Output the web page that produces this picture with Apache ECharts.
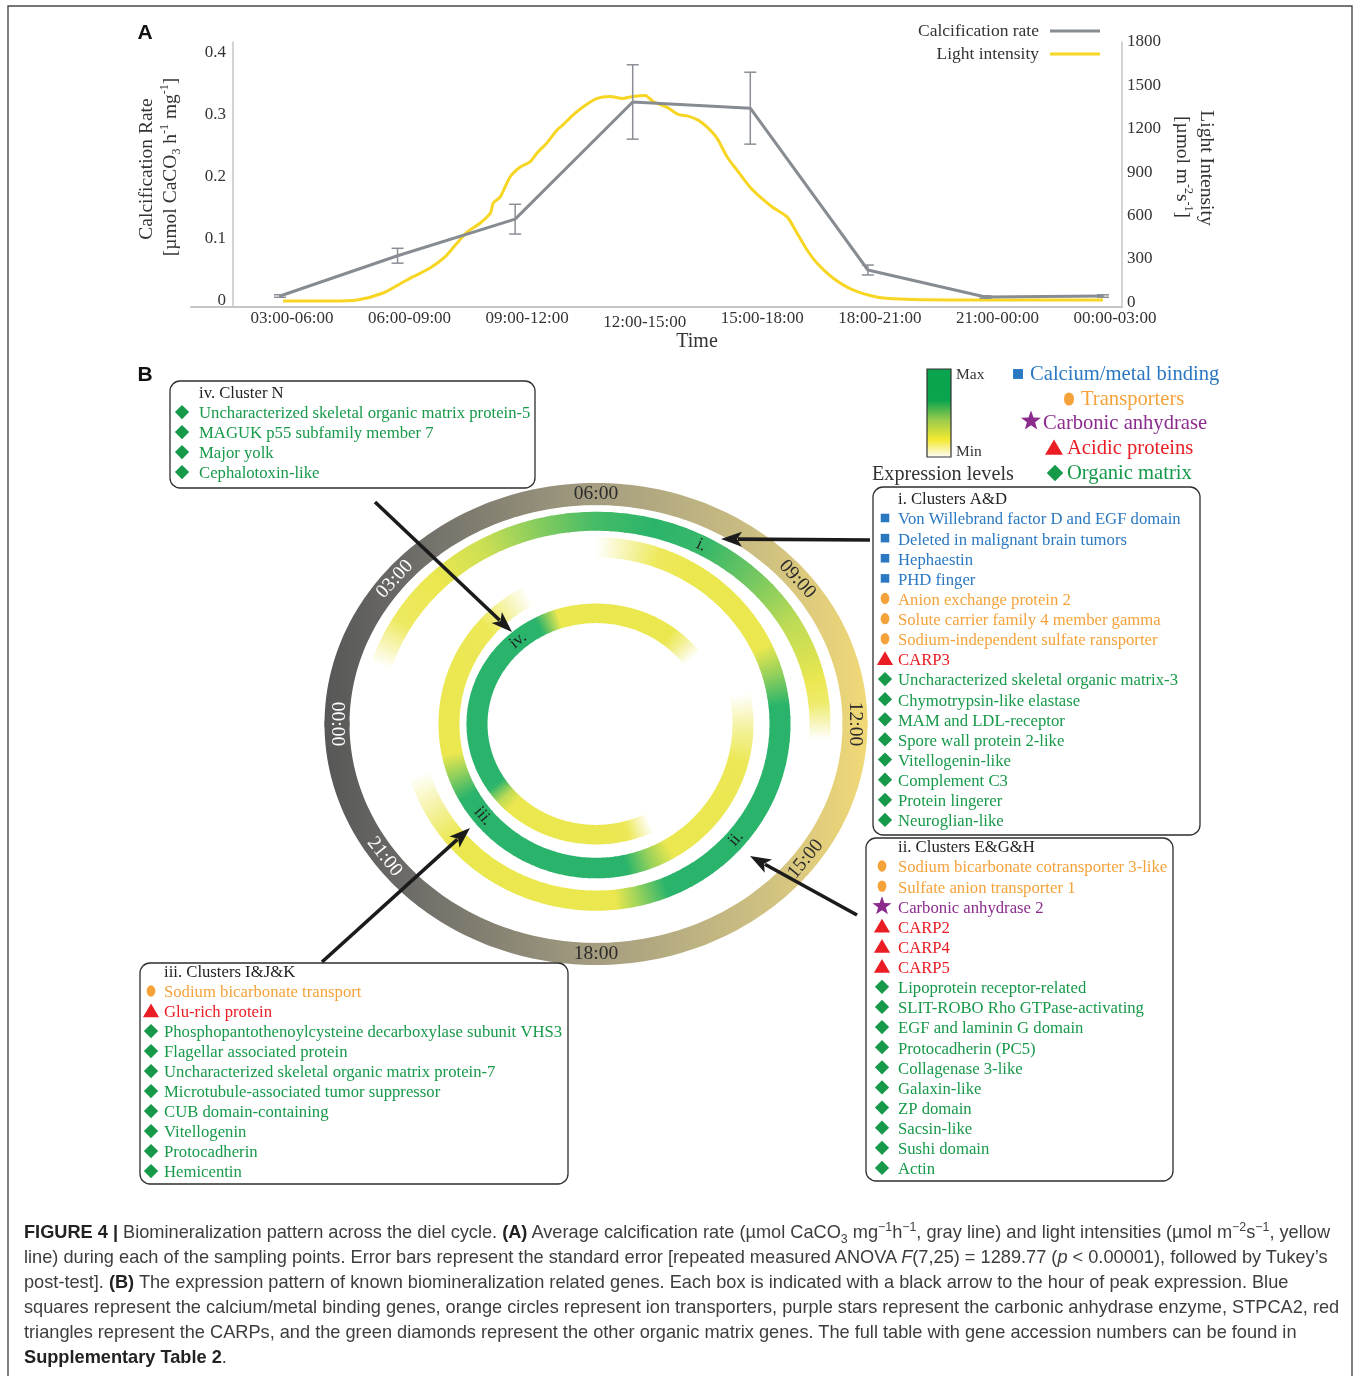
<!DOCTYPE html>
<html>
<head>
<meta charset="utf-8">
<title>Biomineralization pattern across the diel cycle</title>
<script src="https://cdn.jsdelivr.net/npm/echarts@6/dist/echarts.min.js"></script>
<style>
  html, body { margin: 0; padding: 0; background: #fff; overflow: hidden; }
  #chart { position: absolute; left: 0; top: 0; width: 1358px; height: 1376px; }
  #caption {
    position: absolute; left: 24px; top: 1220px; z-index: 5;
    font-family: "Liberation Sans", Arial, sans-serif; font-size: 18.2px;
    line-height: 25px; color: #3d3d3d; white-space: nowrap;
  }
  #caption b { color: #222; }
  #caption sup, #caption sub { font-size: 0.68em; line-height: 0; }
</style>
</head>
<body>
<div id="chart"></div>
<div id="caption"><b>FIGURE 4 |</b> Biomineralization pattern across the diel cycle. <b>(A)</b> Average calcification rate (µmol CaCO<sub>3</sub> mg<sup>−1</sup>h<sup>−1</sup>, gray line) and light intensities (µmol m<sup>−2</sup>s<sup>−1</sup>, yellow<br>line) during each of the sampling points. Error bars represent the standard error [repeated measured ANOVA <i>F</i>(7,25) = 1289.77 (<i>p</i> &lt; 0.00001), followed by Tukey’s<br>post-test]. <b>(B)</b> The expression pattern of known biomineralization related genes. Each box is indicated with a black arrow to the hour of peak expression. Blue<br>squares represent the calcium/metal binding genes, orange circles represent ion transporters, purple stars represent the carbonic anhydrase enzyme, STPCA2, red<br>triangles represent the CARPs, and the green diamonds represent the other organic matrix genes. The full table with gene accession numbers can be found in<br><b>Supplementary Table 2</b>.</div>
<script>
// ---------------- Panel A: calcification vs light ----------------
const SAMPLING_WINDOWS = ['03:00-06:00', '06:00-09:00', '09:00-12:00', '12:00-15:00',
                          '15:00-18:00', '18:00-21:00', '21:00-00:00', '00:00-03:00'];
const CALCIFICATION_RATE = [0.008, 0.073, 0.132, 0.321, 0.311, 0.050, 0.0065, 0.008];
const CALCIFICATION_SE   = [0.002, 0.012, 0.024, 0.060, 0.058, 0.008, 0.002, 0.002];
const RATE_TICKS = [0, 0.1, 0.2, 0.3, 0.4];
const PAR_TICKS = [0, 300, 600, 900, 1200, 1500, 1800];
// light logger trace: clock hour (values past 24 continue into the next day) and PAR
const LIGHT_TIME_H = [4.58, 5.78, 6.47, 7.13, 7.74, 8.33, 8.71, 9.02, 9.28, 9.61, 9.87, 9.94,
  10.12, 10.37, 10.63, 10.88, 11.06, 11.31, 11.57, 11.72, 11.98, 12.23, 12.59, 12.92, 13.25,
  13.51, 13.82, 14.02, 14.38, 14.66, 14.91, 15.17, 15.40, 15.65, 15.91, 16.16, 16.49, 16.75,
  17.06, 17.44, 17.69, 17.95, 18.20, 18.61, 19.12, 19.73, 20.32, 21.60, 22.87, 25.50];
const LIGHT_PAR = [10, 10, 17, 65, 155, 238, 314, 411, 487, 549, 618, 687,
  729, 867, 936, 971, 1033, 1102, 1192, 1227, 1296, 1351, 1410, 1424, 1410,
  1424, 1431, 1389, 1348, 1299, 1288, 1260, 1212, 1136, 1005, 915, 798, 729,
  660, 591, 480, 362, 272, 169, 86, 37, 23, 17, 17, 17];

// ---------------- Panel B: expression around the clock ----------------
const CLOCK_TICKS = [0, 3, 6, 9, 12, 15, 18, 21];
const CLOCK_LABELS = ['00:00', '03:00', '06:00', '09:00', '12:00', '15:00', '18:00', '21:00'];
const CLUSTER_NAMES = ['i.', 'ii.', 'iii.', 'iv.'];
const PEAK_HOURS = [7.87, 14.7, 21.35, 3.27];
// relative expression (0 = min, 1 = max) at clock hours; hours past 24 wrap past midnight
const EXPR_I   = [[1.1, 0], [2.0, 0.45], [3, 0.5], [4, 0.58], [5, 0.76], [6, 0.93], [7, 1], [8, 0.96],
                  [9, 0.8], [10, 0.62], [11, 0.52], [11.6, 0.42], [12.3, 0]];
const EXPR_II  = [[6.0, 0], [7.3, 0.46], [8, 0.5], [10.3, 0.5], [10.9, 0.72], [11.6, 1], [16.5, 1],
                  [17.1, 0.72], [17.6, 0.5], [21.3, 0.5], [22.3, 0.2], [22.9, 0]];
const EXPR_III = [[11.2, 0], [12.2, 0.3], [13, 0.48], [16.0, 0.5], [16.6, 0.72], [17.2, 1], [22.0, 1],
                  [22.6, 0.75], [23.2, 0.5], [26.8, 0.48], [27.5, 0.25], [28.2, 0]];
const EXPR_IV  = [[16.2, 0], [17.0, 0.48], [18, 0.5], [20.9, 0.5], [21.3, 0.62], [21.8, 1], [28.1, 1],
                  [28.5, 0.72], [28.8, 0.5], [32.5, 0.5], [33.0, 0.3], [33.6, 0]];
const CLUSTER_EXPRESSION = [EXPR_I, EXPR_II, EXPR_III, EXPR_IV];

// gene lists per box: [class, name]
const GENES_N = [
  ['om', 'Uncharacterized skeletal organic matrix protein-5'],
  ['om', 'MAGUK p55 subfamily member 7'],
  ['om', 'Major yolk'],
  ['om', 'Cephalotoxin-like']];
const GENES_AD = [
  ['cal', 'Von Willebrand factor D and EGF domain'],
  ['cal', 'Deleted in malignant brain tumors'],
  ['cal', 'Hephaestin'],
  ['cal', 'PHD finger'],
  ['trans', 'Anion exchange protein 2'],
  ['trans', 'Solute carrier family 4 member gamma'],
  ['trans', 'Sodium-independent sulfate ransporter'],
  ['acid', 'CARP3'],
  ['om', 'Uncharacterized skeletal organic matrix-3'],
  ['om', 'Chymotrypsin-like elastase'],
  ['om', 'MAM and LDL-receptor'],
  ['om', 'Spore wall protein 2-like'],
  ['om', 'Vitellogenin-like'],
  ['om', 'Complement C3'],
  ['om', 'Protein lingerer'],
  ['om', 'Neuroglian-like']];
const GENES_EGH = [
  ['trans', 'Sodium bicarbonate cotransporter 3-like'],
  ['trans', 'Sulfate anion transporter 1'],
  ['ca', 'Carbonic anhydrase 2'],
  ['acid', 'CARP2'],
  ['acid', 'CARP4'],
  ['acid', 'CARP5'],
  ['om', 'Lipoprotein receptor-related'],
  ['om', 'SLIT-ROBO Rho GTPase-activating'],
  ['om', 'EGF and laminin G domain'],
  ['om', 'Protocadherin (PC5)'],
  ['om', 'Collagenase 3-like'],
  ['om', 'Galaxin-like'],
  ['om', 'ZP domain'],
  ['om', 'Sacsin-like'],
  ['om', 'Sushi domain'],
  ['om', 'Actin']];
const GENES_IJK = [
  ['trans', 'Sodium bicarbonate transport'],
  ['acid', 'Glu-rich protein'],
  ['om', 'Phosphopantothenoylcysteine decarboxylase subunit VHS3'],
  ['om', 'Flagellar associated protein'],
  ['om', 'Uncharacterized skeletal organic matrix protein-7'],
  ['om', 'Microtubule-associated tumor suppressor'],
  ['om', 'CUB domain-containing'],
  ['om', 'Vitellogenin'],
  ['om', 'Protocadherin'],
  ['om', 'Hemicentin']];
const GENE_CLASSES = [['cal', 'Calcium/metal binding'], ['trans', 'Transporters'],
  ['ca', 'Carbonic anhydrase'], ['acid', 'Acidic proteins'], ['om', 'Organic matrix']];

// ---------------- styling / layout ----------------
const SERIF = '"Liberation Serif", "Times New Roman", serif';
const SANS = '"Liberation Sans", Arial, sans-serif';
const GRAY_LINE = '#878c93';
const LIGHT_YELLOW = '#f7d523';
const AXIS_GRAY = '#c6c6c6';
const CLASS_COLORS = { cal: '#2a78c2', trans: '#f6a23b', ca: '#8b2c8d', acid: '#ea1d25', om: '#17994a' };
const EXPR_COLORS = ['#ffffff', '#ebe74f', '#2ab46b'];
const BOX_FONT = '16.7px ' + SERIF;
// ellipse geometry of each band: horizontal radius, width, vertical squash
const RING_GEOMETRY = {
  clock: { r: 259, w: 25, k: 0.888 },
  'i.': { r: 224, w: 21, k: 0.905 },
  'ii.': { r: 184, w: 21, k: 0.96 },
  'iii.': { r: 147, w: 21, k: 0.98 },
  'iv.': { r: 119, w: 21, k: 0.93 }
};
// diagonal clock labels sit a little closer to the horizontal (in hours along the band)
const CLOCK_LABEL_SHIFT = { 3: -0.4, 9: 0.4, 15: -0.6, 21: 0.65 };

function exprColor(level) {
  return echarts.color.lerp(Math.max(0, Math.min(1, level)), EXPR_COLORS);
}

function ellipsePoint(api, c, g, hour, dr) {
  const p = api.coord([g.r + dr, ((hour % 24) + 24) % 24]);
  return [p[0], c[1] + (p[1] - c[1]) * g.k];
}

function bandPolygon(api, c, g, h0, h1, fill) {
  const n = Math.max(2, Math.ceil((h1 - h0) / 0.08));
  const pts = [];
  for (let s = 0; s <= n; s++) pts.push(ellipsePoint(api, c, g, h0 + (h1 - h0) * s / n, g.w / 2));
  for (let s = n; s >= 0; s--) pts.push(ellipsePoint(api, c, g, h0 + (h1 - h0) * s / n, -g.w / 2));
  return { type: 'polygon', shape: { points: pts }, style: { fill: fill } };
}

function tangentRotation(api, c, g, hour) {
  const a = ellipsePoint(api, c, g, hour - 0.01, 0);
  const b = ellipsePoint(api, c, g, hour + 0.01, 0);
  let dx = b[0] - a[0], dy = b[1] - a[1];
  const hh = ((hour % 24) + 24) % 24;
  if (hh > 12 || hh === 0) { dx = -dx; dy = -dy; }
  return -Math.atan2(dy, dx);
}

// clock band with its grey-to-sand gradient
function renderClockBand(params, api) {
  const c = api.coord([0, 0]);
  const g = RING_GEOMETRY.clock;
  const fill = {
    type: 'linear', global: true,
    x: c[0] - g.r - g.w / 2, y: c[1], x2: c[0] + g.r + g.w / 2, y2: c[1],
    colorStops: [
      { offset: 0, color: '#575757' }, { offset: 0.15, color: '#6c6b67' },
      { offset: 0.5, color: '#a49d80' }, { offset: 0.8, color: '#cdbf82' },
      { offset: 1, color: '#f1d977' }]
  };
  const children = [];
  for (let q = 0; q < 4; q++) children.push(bandPolygon(api, c, g, q * 6 - 0.05, q * 6 + 6.05, fill));
  return { type: 'group', children: children };
}

function renderClockLabel(params, api) {
  const c = api.coord([0, 0]);
  const g = RING_GEOMETRY.clock;
  const tick = api.value(0);
  const h = tick + (CLOCK_LABEL_SHIFT[tick] || 0);
  const p = ellipsePoint(api, c, g, h, 0);
  const onDark = p[0] < c[0] - 150;
  return {
    type: 'text', x: p[0], y: p[1], rotation: tangentRotation(api, c, g, h),
    style: {
      text: CLOCK_LABELS[params.dataIndex], fill: onDark ? '#ffffff' : '#2b2b2b',
      font: '19.5px ' + SERIF, align: 'center', verticalAlign: 'middle',
      textAlign: 'center', textVerticalAlign: 'middle'
    }
  };
}

function renderExpression(params, api) {
  const ring = api.value(0), h0 = api.value(1), l0 = api.value(2), h1 = api.value(3), l1 = api.value(4);
  if (l0 <= 0 && l1 <= 0) return { type: 'group', children: [] };
  const g = RING_GEOMETRY[CLUSTER_NAMES[ring]];
  const c = api.coord([0, 0]);
  const steps = Math.max(1, Math.ceil((h1 - h0) / 0.25));
  const children = [];
  for (let s = 0; s < steps; s++) {
    const a = h0 + (h1 - h0) * s / steps, b = h0 + (h1 - h0) * (s + 1) / steps;
    const la = l0 + (l1 - l0) * s / steps, lb = l0 + (l1 - l0) * (s + 1) / steps;
    const pa = ellipsePoint(api, c, g, a, 0), pb = ellipsePoint(api, c, g, b, 0);
    const fill = {
      type: 'linear', global: true, x: pa[0], y: pa[1], x2: pb[0], y2: pb[1],
      colorStops: [{ offset: 0, color: exprColor(la) }, { offset: 1, color: exprColor(lb) }]
    };
    children.push(bandPolygon(api, c, g, a, b + (s < steps - 1 ? 0.03 : 0.015), fill));
  }
  return { type: 'group', children: children };
}

function renderClusterLabel(params, api) {
  const ring = api.value(0), h = api.value(1);
  const g = RING_GEOMETRY[CLUSTER_NAMES[ring]];
  const c = api.coord([0, 0]);
  const p = ellipsePoint(api, c, g, h, 0);
  return {
    type: 'text', x: p[0], y: p[1], rotation: tangentRotation(api, c, g, h),
    style: {
      text: CLUSTER_NAMES[ring], fill: '#1e1e1e', font: '17px ' + SERIF,
      align: 'center', verticalAlign: 'middle', textAlign: 'center', textVerticalAlign: 'middle'
    }
  };
}

function renderErrorBar(params, api) {
  const i = api.value(0), v = api.value(1), se = api.value(2);
  const top = api.coord([i, v + se]), bot = api.coord([i, v - se]);
  const hw = 6, st = { stroke: '#8a8f96', lineWidth: 1.5 };
  return {
    type: 'group', children: [
      { type: 'line', shape: { x1: top[0], y1: top[1], x2: bot[0], y2: bot[1] }, style: st },
      { type: 'line', shape: { x1: top[0] - hw, y1: top[1], x2: top[0] + hw, y2: top[1] }, style: st },
      { type: 'line', shape: { x1: bot[0] - hw, y1: bot[1], x2: bot[0] + hw, y2: bot[1] }, style: st }
    ]
  };
}

// ---------------- annotation graphics ----------------
function txt(x, y, text, font, fill, align, extra) {
  return Object.assign({
    type: 'text', x: x, y: y, z: 60,
    style: {
      text: text, font: font, fill: fill || '#222',
      align: align || 'left', verticalAlign: 'middle',
      textAlign: align || 'left', textVerticalAlign: 'middle'
    }
  }, extra || {});
}

function starPoints(cx, cy, R, r) {
  const pts = [];
  for (let i = 0; i < 10; i++) {
    const a = -Math.PI / 2 + i * Math.PI / 5, rad = i % 2 ? r : R;
    pts.push([cx + rad * Math.cos(a), cy + rad * Math.sin(a)]);
  }
  return pts;
}

function marker(kind, x, y, s) {
  const fill = CLASS_COLORS[kind];
  const st = { fill: fill };
  if (kind === 'cal') return { type: 'rect', z: 60, shape: { x: x - 4.5 * s, y: y - 4.5 * s, width: 9 * s, height: 9 * s }, style: st };
  if (kind === 'trans') return { type: 'circle', z: 60, x: x, y: y, scaleY: 1.3, shape: { cx: 0, cy: 0, r: 4.6 * s }, style: st };
  if (kind === 'ca') return { type: 'polygon', z: 60, shape: { points: starPoints(x, y, 10.5 * s, 4.3 * s) }, style: st };
  if (kind === 'acid') return { type: 'polygon', z: 60, shape: { points: [[x, y - 8 * s], [x + 8.5 * s, y + 6.5 * s], [x - 8.5 * s, y + 6.5 * s]] }, style: st };
  return { type: 'polygon', z: 60, shape: { points: [[x, y - 7.5 * s], [x + 7.5 * s, y], [x, y + 7.5 * s], [x - 7.5 * s, y]] }, style: st };
}

function arrow(x1, y1, x2, y2) {
  const dx = x2 - x1, dy = y2 - y1, L = Math.hypot(dx, dy), ux = dx / L, uy = dy / L;
  const head = 21, half = 7.5;
  const bx = x2 - ux * head, by = y2 - uy * head;
  return [
    { type: 'line', z: 70, shape: { x1: x1, y1: y1, x2: bx + ux * 4, y2: by + uy * 4 }, style: { stroke: '#1b1b1b', lineWidth: 3.6 } },
    { type: 'polygon', z: 70, shape: { points: [[x2, y2], [bx - uy * half, by + ux * half], [bx + ux * 5, by + uy * 5], [bx + uy * half, by - ux * half]] }, style: { fill: '#1b1b1b' } }
  ];
}

const BOXES = [
  { title: 'iv. Cluster N', genes: GENES_N, x: 170, y: 381, w: 365, h: 107, titleX: 199, titleY: 394, markerX: 182, textX: 199, y0: 414, step: 20 },
  { title: 'i. Clusters A&D', genes: GENES_AD, x: 873, y: 487, w: 327, h: 348, titleX: 898, titleY: 500, markerX: 885, textX: 898, y0: 520, step: 20.13 },
  { title: 'ii. Clusters E&G&H', genes: GENES_EGH, x: 866, y: 838, w: 307, h: 343, titleX: 898, titleY: 848, markerX: 882, textX: 898, y0: 868, step: 20.13 },
  { title: 'iii. Clusters I&J&K', genes: GENES_IJK, x: 140, y: 963, w: 428, h: 221, titleX: 164, titleY: 973, markerX: 151, textX: 164, y0: 993, step: 20 }
];

const graphics = [];
// figure frame
graphics.push({ type: 'rect', z: 1, shape: { x: 8, y: 6, width: 1344, height: 1420 }, style: { fill: 'none', stroke: '#4a4a4a', lineWidth: 1.4 } });
// panel letters
graphics.push(txt(145, 33, 'A', 'bold 21px ' + SANS, '#111', 'center'));
graphics.push(txt(145, 375, 'B', 'bold 21px ' + SANS, '#111', 'center'));
// axis titles of panel A
const titleRich = {
  sup: { fontSize: 12, fontFamily: SERIF, verticalAlign: 'top', lineHeight: 13, fill: '#333' },
  sub: { fontSize: 12, fontFamily: SERIF, verticalAlign: 'bottom', lineHeight: 13, fill: '#333' }
};
graphics.push(txt(147, 169, 'Calcification Rate', '19.5px ' + SERIF, '#333', 'center', { rotation: Math.PI / 2 }));
graphics.push({
  type: 'text', x: 171, y: 167, rotation: Math.PI / 2, z: 60,
  style: {
    text: '[µmol CaCO{sub|3} h{sup|-1} mg{sup|-1}]', font: '19.5px ' + SERIF, fill: '#333', lineHeight: 24,
    align: 'center', verticalAlign: 'middle', textAlign: 'center', textVerticalAlign: 'middle', rich: titleRich
  }
});
graphics.push(txt(1206, 168, 'Light Intensity', '19.5px ' + SERIF, '#333', 'center', { rotation: -Math.PI / 2 }));
graphics.push({
  type: 'text', x: 1182, y: 167, rotation: -Math.PI / 2, z: 60,
  style: {
    text: '[µmol m{sup|-2}s{sup|-1}]', font: '19.5px ' + SERIF, fill: '#333', lineHeight: 24,
    align: 'center', verticalAlign: 'middle', textAlign: 'center', textVerticalAlign: 'middle', rich: titleRich
  }
});
graphics.push(txt(697, 342, 'Time', '20px ' + SERIF, '#333', 'center'));

// expression-level key
graphics.push({
  type: 'rect', z: 60, shape: { x: 927, y: 369, width: 24, height: 88 },
  style: {
    fill: new echarts.graphic.LinearGradient(0, 0, 0, 1, [
      { offset: 0, color: '#0aa44e' }, { offset: 0.36, color: '#0ba54e' },
      { offset: 0.58, color: '#9ccb4c' }, { offset: 0.8, color: '#f3ea30' },
      { offset: 0.9, color: '#f8f29a' }, { offset: 1, color: '#ffffff' }]),
    stroke: '#333', lineWidth: 1.2
  }
});
graphics.push(txt(956, 375, 'Max', '15.5px ' + SERIF, '#333'));
graphics.push(txt(956, 452, 'Min', '15.5px ' + SERIF, '#333'));
graphics.push(txt(872, 475, 'Expression levels', '20.2px ' + SERIF, '#333'));

// gene-class key
const CLASS_KEY_POS = { cal: [1018, 374, 1030, 375, 1.1], trans: [1069, 399, 1081, 400, 1.1],
  ca: [1031, 421, 1043, 424, 1.0], acid: [1054, 448, 1067, 449, 1.05], om: [1055, 473, 1067, 474, 1.1] };
GENE_CLASSES.forEach(function (cls) {
  const p = CLASS_KEY_POS[cls[0]];
  graphics.push(marker(cls[0], p[0], p[1], p[4]));
  graphics.push(txt(p[2], p[3], cls[1], '20.6px ' + SERIF, CLASS_COLORS[cls[0]]));
});

// gene boxes
BOXES.forEach(function (b) {
  graphics.push({ type: 'rect', z: 55, shape: { x: b.x, y: b.y, width: b.w, height: b.h, r: 10 }, style: { fill: 'none', stroke: '#2e2e2e', lineWidth: 1.3 } });
  graphics.push(txt(b.titleX, b.titleY, b.title, BOX_FONT, '#222'));
  b.genes.forEach(function (gene, i) {
    const y = b.y0 + i * b.step;
    graphics.push(marker(gene[0], b.markerX, y - 2, 0.95));
    graphics.push(txt(b.textX, y, gene[1], BOX_FONT, CLASS_COLORS[gene[0]]));
  });
});

// arrows from boxes to the peak hour of each cluster
[[375, 502, 512, 632], [870, 540, 721, 539], [857, 915, 750, 856], [322, 962, 470, 828]].forEach(function (a) {
  arrow(a[0], a[1], a[2], a[3]).forEach(function (e) { graphics.push(e); });
});

// ---------------- chart option ----------------
const segmentData = [];
CLUSTER_EXPRESSION.forEach(function (pts, ring) {
  for (let j = 0; j < pts.length - 1; j++) {
    segmentData.push([ring, pts[j][0], pts[j][1], pts[j + 1][0], pts[j + 1][1]]);
  }
});

const axisLabelBase = { fontFamily: SERIF, fontSize: 17, color: '#333' };

const option = {
  animation: false,
  backgroundColor: '#ffffff',
  legend: {
    orient: 'vertical', right: 258, top: 22, align: 'right', padding: 0,
    itemWidth: 50, itemHeight: 3, itemGap: 5, icon: 'rect',
    textStyle: { fontFamily: SERIF, fontSize: 17.5, color: '#333', padding: [0, 6, 0, 0] },
    data: ['Calcification rate', 'Light intensity']
  },
  grid: [
    { left: 221.2, top: 42, width: 940.6, height: 265 },
    { left: 191, top: 42, width: 931, height: 265 }
  ],
  xAxis: [
    {
      type: 'category', gridIndex: 0, data: SAMPLING_WINDOWS, boundaryGap: true,
      axisLine: { show: false, onZero: false }, axisTick: { show: false }, splitLine: { show: false },
      axisLabel: Object.assign({}, axisLabelBase, {
        margin: 3, interval: 0, padding: [0, 0, 0, 24],
        formatter: function (v, i) { return i === 3 ? '{low|' + v + '}' : v; },
        rich: { low: Object.assign({}, axisLabelBase, { padding: [4, 0, 0, 0] }) }
      })
    },
    { type: 'value', gridIndex: 0, min: 3, max: 27, show: false },
    {
      type: 'value', gridIndex: 1, min: 0, max: 1,
      axisLine: { show: true, onZero: false, lineStyle: { color: AXIS_GRAY, width: 2 } },
      axisTick: { show: false }, axisLabel: { show: false }, splitLine: { show: false }
    }
  ],
  yAxis: [
    {
      type: 'value', gridIndex: 0, position: 'left', offset: -11.8,
      min: -0.00968, max: 0.41774,
      axisLine: { show: true, onZero: false, lineStyle: { color: AXIS_GRAY, width: 1.5 } },
      axisTick: { show: false }, splitLine: { show: false },
      axisLabel: Object.assign({}, axisLabelBase, { margin: 7, customValues: RATE_TICKS,
        formatter: function (v) { return String(v); } })
    },
    {
      type: 'value', gridIndex: 0, position: 'right', offset: -39.8,
      min: -31.8, max: 1800,
      axisLine: { show: true, onZero: false, lineStyle: { color: AXIS_GRAY, width: 1.5 } },
      axisTick: { show: false }, splitLine: { show: false },
      axisLabel: Object.assign({}, axisLabelBase, { margin: 5, customValues: PAR_TICKS,
        formatter: function (v) { return String(v); } })
    },
    { type: 'value', gridIndex: 1, show: false }
  ],
  polar: { center: [596, 724], radius: 300 },
  angleAxis: { type: 'value', min: 0, max: 24, startAngle: 180, clockwise: true, show: false },
  radiusAxis: { type: 'value', min: 0, max: 300, show: false },
  graphic: { elements: graphics },
  series: [
    {
      name: 'Light intensity', type: 'line', xAxisIndex: 1, yAxisIndex: 1,
      data: LIGHT_TIME_H.map(function (h, i) { return [h, LIGHT_PAR[i]]; }),
      symbol: 'none', smooth: 0.25, z: 2,
      lineStyle: { color: LIGHT_YELLOW, width: 3 }, itemStyle: { color: LIGHT_YELLOW }
    },
    {
      name: 'Calcification rate', type: 'line', xAxisIndex: 0, yAxisIndex: 0,
      data: CALCIFICATION_RATE, symbol: 'none', z: 3,
      lineStyle: { color: GRAY_LINE, width: 3 }, itemStyle: { color: GRAY_LINE }
    },
    {
      name: 'Standard error', type: 'custom', xAxisIndex: 0, yAxisIndex: 0, z: 4,
      encode: { x: 0, y: 1 },
      data: CALCIFICATION_RATE.map(function (v, i) { return [i, v, CALCIFICATION_SE[i]]; }),
      renderItem: renderErrorBar, silent: true
    },
    {
      name: 'Clock', type: 'custom', coordinateSystem: 'polar', silent: true, z: 5,
      data: [[0, 0]], renderItem: renderClockBand
    },
    {
      name: 'Cluster expression', type: 'custom', coordinateSystem: 'polar', silent: true, z: 5,
      data: segmentData, renderItem: renderExpression
    },
    {
      name: 'Clock labels', type: 'custom', coordinateSystem: 'polar', silent: true, z: 6,
      encode: { angle: 0, radius: 1 },
      data: CLOCK_TICKS.map(function (h) { return [h, 0]; }), renderItem: renderClockLabel
    },
    {
      name: 'Cluster labels', type: 'custom', coordinateSystem: 'polar', silent: true, z: 6,
      data: PEAK_HOURS.map(function (h, i) { return [i, h]; }), renderItem: renderClusterLabel
    }
  ]
};

const chart = echarts.init(document.getElementById('chart'), null, { renderer: 'canvas' });
chart.setOption(option);
</script>
</body>
</html>
